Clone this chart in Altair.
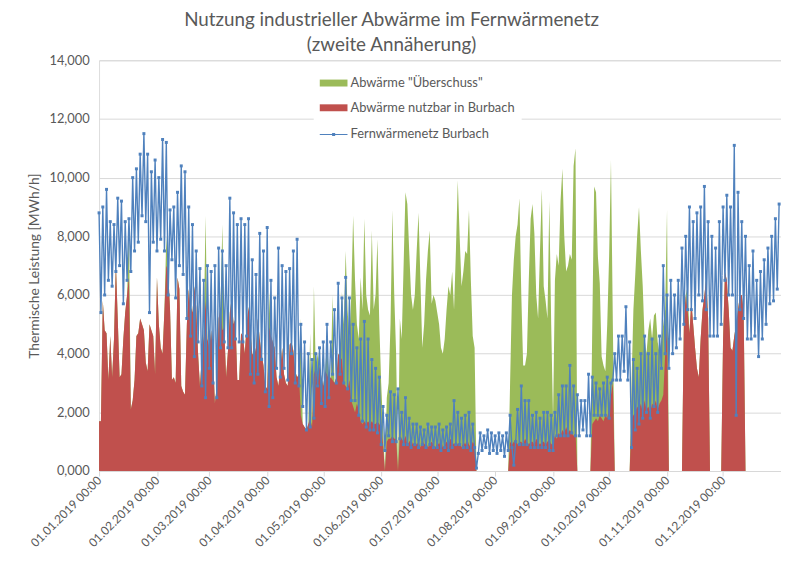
import altair as alt
import pandas as pd

# --- Werte in MWh/h / 1000, Tageswerte 01.01.2019 - 31.12.2019 ---
# Abwärme gesamt ("Überschuss"-Fläche, liegt hinter der roten Fläche)
abwaerme_gesamt = [
    1.7, 1.7, 5.8, 4.8, 4.7, 3.1, 4.6, 3.2, 4.5, 7.1,
    5.2, 3.2, 3.3, 4.5, 5.4, 6.0, 8.4, 2.1, 2.4, 3.1,
    4.6, 4.7, 5.2, 5.0, 4.8, 3.7, 3.4, 5.0, 4.8, 4.6,
    3.3, 6.6, 5.0, 4.2, 4.0, 5.5, 8.0, 6.8, 5.5, 3.1,
    3.2, 3.0, 6.6, 6.2, 2.9, 2.7, 2.6, 5.0, 6.2, 5.6,
    5.4, 6.3, 5.6, 4.0, 2.9, 3.9, 4.6, 8.7, 4.5, 4.2,
    4.8, 4.0, 2.3, 2.9, 5.2, 5.6, 8.4, 4.9, 3.2, 4.1,
    5.4, 5.9, 5.0, 5.2, 3.1, 3.1, 4.7, 4.6, 4.0, 5.0,
    5.6, 4.8, 4.0, 3.9, 4.2, 5.2, 4.5, 4.0, 3.6, 2.9,
    2.8, 6.1, 4.6, 4.4, 4.2, 3.2, 2.9, 3.5, 4.2, 3.3,
    3.0, 2.9, 4.3, 4.4, 4.1, 3.4, 3.2, 3.3, 5.2, 1.6,
    1.5, 1.4, 1.6, 4.7, 1.5, 6.3, 3.5, 4.0, 3.6, 3.2,
    2.9, 3.4, 4.4, 3.1, 3.2, 6.0, 3.0, 3.2, 4.0, 3.9,
    6.1, 5.0, 7.5, 5.5, 4.5, 6.0, 8.7, 6.5, 5.0, 4.5,
    6.6, 5.5, 8.6, 6.0, 5.5, 5.3, 8.2, 5.5, 6.0, 7.9,
    5.0, 3.0, 1.5, 0.0, 2.5, 3.0, 5.0, 8.9, 6.0, 4.0,
    0.0, 5.2, 4.5, 7.0, 9.5, 9.1, 7.5, 6.0, 5.5, 6.0,
    7.5, 8.8, 6.5, 4.2, 5.0, 6.5, 7.5, 8.2, 5.7, 6.0,
    5.8, 5.4, 5.0, 4.2, 4.0, 4.5, 5.5, 6.3, 6.0, 6.8,
    5.5, 7.5, 9.9, 8.0, 6.3, 6.8, 7.5, 7.4, 8.9, 6.5,
    4.6, 4.2, 0.0, 0.0, 0.0, 0.0, 0.0, 0.0, 0.0, 0.0,
    0.0, 0.0, 0.0, 0.0, 0.0, 0.0, 0.0, 0.0, 0.0, 0.0,
    3.0, 6.0, 7.2, 8.0, 8.4, 9.3, 6.0, 3.6, 3.6, 4.0,
    6.5, 8.6, 9.1, 8.1, 6.0, 5.2, 7.5, 9.6, 6.3, 5.8,
    5.2, 9.2, 5.0, 1.8, 6.5, 7.4, 7.0, 9.2, 10.3, 8.0,
    6.8, 7.0, 7.4, 7.2, 10.4, 11.0, 0.0, 0.0, 0.0, 0.0,
    0.0, 0.0, 0.0, 0.0, 5.0, 9.7, 9.5, 7.3, 6.4, 3.9,
    3.6, 3.4, 5.0, 7.3, 10.6, 5.0, 0.0, 0.0, 0.0, 0.0,
    0.0, 0.0, 0.0, 0.0, 0.0, 3.0, 5.5, 6.7, 8.0, 9.0,
    7.5, 6.3, 4.5, 4.0, 4.8, 5.2, 4.5, 5.3, 5.4, 4.4,
    4.0, 4.5, 5.0, 5.5, 8.9, 0.0, 0.0, 0.0, 0.0, 0.0,
    0.0, 0.0, 0.0, 5.0, 6.0, 6.3, 4.7, 5.8, 5.0, 4.2,
    3.5, 3.2, 4.5, 5.5, 6.0, 6.6, 5.2, 0.0, 0.0, 0.0,
    0.0, 0.0, 0.0, 0.0, 4.5, 6.8, 6.5, 5.5, 4.2, 4.1,
    4.6, 5.0, 5.5, 6.0, 6.0, 5.5, 0.0, 0.0, 0.0, 0.0,
    0.0, 0.0, 0.0, 0.0, 0.0, 0.0, 0.0, 0.0, 0.0, 0.0,
    0.0, 0.0, 0.0, 0.0, 0.0,
]

# Abwärme nutzbar in Burbach (rote Fläche)
abwaerme_nutzbar = [
    1.7, 1.7, 5.8, 4.8, 4.7, 3.1, 4.6, 3.2, 4.5, 7.1,
    5.2, 3.2, 3.3, 4.5, 5.4, 6.0, 6.6, 2.1, 2.4, 3.1,
    4.6, 4.7, 5.2, 5.0, 4.8, 3.7, 3.4, 5.0, 4.8, 4.6,
    3.3, 6.6, 5.0, 4.2, 4.0, 5.5, 7.0, 6.8, 5.5, 3.1,
    3.2, 3.0, 6.6, 6.2, 2.9, 2.7, 2.6, 5.0, 6.2, 5.6,
    5.4, 6.3, 5.6, 4.0, 2.9, 3.9, 4.6, 5.8, 4.5, 4.2,
    4.8, 4.0, 2.3, 2.9, 5.2, 5.6, 4.8, 4.9, 3.2, 4.1,
    5.4, 5.9, 5.0, 5.2, 3.1, 3.1, 4.7, 4.6, 4.0, 5.0,
    5.6, 4.8, 4.0, 3.9, 4.2, 5.2, 4.5, 4.0, 3.6, 2.9,
    2.8, 4.9, 4.6, 4.4, 4.2, 3.2, 2.9, 3.5, 4.2, 3.3,
    3.0, 2.9, 4.3, 4.4, 4.1, 3.4, 3.2, 3.3, 1.9, 1.6,
    1.5, 1.4, 1.6, 1.8, 1.5, 3.3, 3.5, 3.0, 3.6, 3.2,
    2.9, 3.4, 3.3, 3.1, 3.2, 3.1, 3.0, 3.2, 4.0, 3.9,
    3.8, 3.0, 2.9, 2.8, 3.1, 2.4, 2.2, 2.0, 2.3, 2.1,
    1.7, 1.6, 1.7, 1.6, 1.7, 1.6, 1.7, 1.6, 1.6, 1.7,
    1.6, 1.5, 0.9, 0.0, 1.0, 1.1, 1.1, 1.2, 1.1, 1.1,
    0.0, 1.2, 1.1, 1.0, 1.2, 0.9, 1.0, 1.1, 0.9, 1.0,
    0.9, 1.0, 0.8, 1.1, 0.9, 1.0, 0.8, 0.9, 1.0, 0.9,
    0.8, 1.0, 0.9, 1.1, 0.8, 0.9, 1.0, 0.9, 1.1, 1.0,
    0.9, 1.0, 0.9, 1.0, 0.8, 1.0, 0.9, 1.1, 0.9, 0.8,
    1.0, 0.9, 0.0, 0.0, 0.0, 0.0, 0.0, 0.0, 0.0, 0.0,
    0.0, 0.0, 0.0, 0.0, 0.0, 0.0, 0.0, 0.0, 0.0, 0.0,
    1.0, 0.9, 1.0, 1.1, 0.9, 1.0, 1.0, 0.9, 1.1, 1.0,
    0.9, 1.0, 1.0, 0.9, 1.1, 1.0, 0.9, 1.0, 1.0, 0.9,
    1.0, 1.1, 0.9, 1.0, 1.2, 1.1, 1.3, 1.2, 1.4, 1.3,
    1.5, 1.3, 1.4, 1.3, 1.2, 1.3, 0.0, 0.0, 0.0, 0.0,
    0.0, 0.0, 0.0, 0.0, 1.6, 1.7, 1.8, 1.7, 1.9, 1.8,
    1.7, 1.9, 1.8, 2.2, 2.6, 3.0, 0.0, 0.0, 0.0, 0.0,
    0.0, 0.0, 0.0, 0.0, 0.0, 1.8, 1.9, 2.0, 2.2, 2.1,
    2.3, 2.0, 2.4, 2.1, 2.2, 2.0, 2.3, 2.2, 2.4, 2.1,
    2.3, 2.4, 2.6, 4.0, 4.9, 0.0, 0.0, 0.0, 0.0, 0.0,
    0.0, 0.0, 0.0, 5.0, 6.0, 5.5, 4.7, 5.8, 5.0, 4.2,
    3.5, 3.2, 4.5, 5.5, 6.0, 6.6, 5.2, 0.0, 0.0, 0.0,
    0.0, 0.0, 0.0, 0.0, 4.5, 6.8, 6.5, 5.5, 4.2, 4.1,
    4.6, 5.0, 5.5, 6.0, 6.0, 5.5, 0.0, 0.0, 0.0, 0.0,
    0.0, 0.0, 0.0, 0.0, 0.0, 0.0, 0.0, 0.0, 0.0, 0.0,
    0.0, 0.0, 0.0, 0.0, 0.0,
]

# Fernwärmenetz Burbach (Lastgang, abwechselnd Tages-Hoch / Tages-Tief)
fernwaermenetz = [
    8.8, 5.4, 9.0, 6.0, 9.6, 6.5, 8.5, 6.3, 8.4, 6.8,
    9.3, 7.0, 9.2, 5.7, 8.5, 6.5, 8.6, 6.8, 10.0, 7.5,
    10.3, 7.8, 10.8, 8.7, 11.5, 8.5, 10.8, 5.4, 10.2, 7.8,
    10.6, 7.5, 10.0, 7.9, 11.3, 7.5, 11.2, 6.0, 8.9, 7.2,
    9.0, 5.9, 9.5, 7.0, 10.4, 6.7, 10.2, 5.2, 9.0, 4.6,
    8.4, 3.9, 7.5, 4.4, 6.9, 2.9, 6.5, 2.5, 7.0, 3.5,
    6.8, 3.0, 7.0, 2.5, 7.6, 4.2, 7.5, 4.4, 7.0, 4.2,
    9.3, 4.2, 8.8, 4.5, 8.4, 4.4, 8.6, 4.4, 8.4, 4.6,
    8.6, 3.3, 7.2, 3.0, 6.7, 3.3, 8.1, 3.8, 7.5, 2.7,
    8.3, 2.2, 6.5, 2.5, 5.9, 3.5, 7.6, 3.2, 7.0, 3.5,
    6.8, 3.1, 6.9, 4.0, 7.5, 3.0, 7.9, 2.9, 5.0, 2.2,
    4.4, 1.4, 4.0, 1.5, 3.8, 1.8, 4.0, 2.9, 4.2, 2.3,
    4.4, 2.2, 5.0, 2.5, 4.4, 3.3, 5.5, 3.0, 6.4, 3.3,
    5.9, 3.0, 6.6, 2.8, 5.9, 2.4, 5.0, 2.4, 4.2, 1.9,
    4.5, 1.7, 5.1, 1.5, 4.5, 1.4, 3.8, 1.4, 3.5, 1.3,
    3.2, 0.9, 2.2, 0.7, 1.9, 1.2, 2.7, 1.0, 2.6, 1.0,
    2.8, 1.1, 2.0, 0.9, 2.5, 0.9, 1.8, 0.8, 1.6, 0.9,
    1.6, 0.8, 1.5, 0.9, 1.4, 0.8, 1.6, 0.9, 1.5, 0.8,
    1.5, 0.8, 1.6, 0.7, 1.4, 0.8, 1.5, 0.7, 1.6, 0.8,
    2.4, 0.9, 2.0, 0.9, 1.8, 0.8, 1.9, 0.8, 2.0, 0.7,
    1.6, 0.8, 0.1, 0.6, 1.3, 0.7, 1.2, 0.8, 1.4, 0.6,
    1.3, 0.7, 1.2, 0.6, 1.3, 0.7, 1.2, 0.5, 1.3, 0.7,
    1.9, 0.8, 0.2, 1.0, 2.1, 0.9, 2.9, 0.9, 2.4, 0.9,
    2.4, 0.8, 1.9, 0.8, 2.0, 0.8, 1.8, 0.8, 2.0, 0.8,
    2.0, 0.7, 1.9, 0.7, 2.0, 1.2, 2.6, 1.2, 2.9, 1.2,
    2.9, 1.2, 3.6, 1.3, 2.9, 1.2, 2.6, 1.2, 2.4, 1.4,
    2.4, 1.2, 3.3, 1.2, 3.2, 1.9, 3.0, 1.9, 2.8, 1.9,
    3.0, 1.9, 3.2, 1.8, 3.0, 3.1, 4.0, 3.1, 4.6, 3.1,
    4.6, 3.4, 5.6, 3.1, 4.4, 0.8, 3.8, 1.4, 3.5, 1.6,
    4.0, 1.8, 4.6, 2.0, 4.0, 1.8, 4.5, 2.2, 4.0, 2.0,
    4.6, 3.5, 7.0, 4.0, 6.0, 3.5, 6.5, 4.0, 6.0, 4.2,
    6.5, 4.5, 7.6, 5.0, 8.0, 5.5, 9.0, 5.5, 8.5, 5.2,
    8.8, 6.0, 9.0, 5.8, 9.7, 5.5, 8.5, 4.6, 8.0, 4.6,
    7.6, 4.6, 8.5, 5.0, 9.0, 6.5, 9.4, 6.0, 9.0, 6.0,
    11.1, 1.9, 9.5, 5.5, 8.5, 5.2, 8.0, 4.5, 7.0, 4.5,
    7.5, 4.6, 6.5, 3.9, 6.8, 4.5, 7.2, 5.0, 7.6, 5.7,
    8.0, 5.8, 8.6, 6.2, 9.1,
]

n = min(len(abwaerme_gesamt), len(abwaerme_nutzbar), len(fernwaermenetz))
dates = pd.date_range("2019-01-01", periods=n, freq="D")

S_G = 'Abwärme "Überschuss"'
S_R = "Abwärme nutzbar in Burbach"
S_B = "Fernwärmenetz Burbach"
FONT = "Lato"
GREY = "#595959"
BLUE = "#4f81bd"

df = pd.DataFrame({
    "date": dates,
    "gesamt": [v * 1000 for v in abwaerme_gesamt[:n]],
    "nutzbar": [v * 1000 for v in abwaerme_nutzbar[:n]],
    "netz": [v * 1000 for v in fernwaermenetz[:n]],
    "s_g": S_G,
    "s_r": S_R,
    "s_b": S_B,
})

rect_shape = "M-1,-0.25L1,-0.25L1,0.25L-1,0.25Z"
line_shape = ("M-1,-0.04L1,-0.04L1,0.04L-1,0.04Z "
              "M-0.11,-0.11L0.11,-0.11L0.11,0.11L-0.11,0.11Z")

area_legend = alt.Legend(
    title=None, orient="none", legendX=217, legendY=3, padding=6,
    fillColor="white", labelFont=FONT, labelFontSize=13, labelColor=GREY,
    symbolType=rect_shape, symbolSize=784, symbolStrokeWidth=0,
    labelOffset=3, rowPadding=4, labelLimit=300,
)
line_legend = alt.Legend(
    title=None, orient="none", legendX=217, legendY=55, padding=6,
    fillColor="white", labelFont=FONT, labelFontSize=13, labelColor=GREY,
    symbolType=line_shape, symbolSize=784, symbolStrokeWidth=0,
    symbolFillColor=BLUE, symbolStrokeColor=BLUE,
    labelOffset=3, labelLimit=300,
)
color_scale = alt.Scale(domain=[S_G, S_R], range=["#9bbb59", "#c0504d"])

x_enc = alt.X(
    "date:T",
    scale=alt.Scale(domain=[alt.DateTime(year=2019, month=1, date=1),
                            alt.DateTime(year=2020, month=1, date=1)]),
    axis=alt.Axis(
        title=None,
        values=[alt.DateTime(year=2019, month=m, date=1) for m in range(1, 13)],
        format="%d.%m.%Y %H:%M", labelAngle=-45, labelAlign="right",
        labelBaseline="middle", labelFont=FONT, labelFontSize=12, labelColor=GREY,
        labelPadding=2, labelOverlap=False, labelBound=False, labelFlush=False,
        grid=False, domainColor="#d9d9d9", tickColor="#d9d9d9", tickSize=5,
    ),
)

def y_enc(field):
    return alt.Y(
        f"{field}:Q",
        scale=alt.Scale(domain=[0, 14000], nice=False),
        axis=alt.Axis(
            title="Thermische Leistung [MWh/h]", titleFont=FONT, titleFontSize=14,
            titleFontWeight="normal", titleColor=GREY, titlePadding=8,
            values=list(range(0, 14001, 2000)),
            labelExpr="datum.value == 0 ? '0,000' : format(datum.value, ',')",
            labelFont=FONT, labelFontSize=13, labelColor=GREY, labelPadding=10,
            domain=False, ticks=False, gridColor="#d9d9d9", gridWidth=1,
        ),
    )

base = alt.Chart(df)
green = base.mark_area(opacity=1, interpolate="linear").encode(
    x=x_enc, y=y_enc("gesamt"),
    color=alt.Color("s_g:N", scale=color_scale, legend=area_legend))
red = base.mark_area(opacity=1, interpolate="linear").encode(
    x=x_enc, y=y_enc("nutzbar"),
    color=alt.Color("s_r:N", scale=color_scale, legend=area_legend))
blue = base.mark_line(
    strokeWidth=1.4, color=BLUE,
    point=alt.OverlayMarkDef(filled=True, size=9, shape="square", color=BLUE),
).encode(
    x=x_enc, y=y_enc("netz"),
    strokeDash=alt.StrokeDash("s_b:N",
                              scale=alt.Scale(domain=[S_B], range=[[1, 0]]),
                              legend=line_legend),
)

chart = alt.layer(green, red, blue).properties(
    width=689, height=415,
    padding={"left": 92, "top": 50, "right": 0, "bottom": 80},
    autosize=alt.AutoSizeParams(type="none"),
    title=alt.TitleParams(
        ["Nutzung industrieller Abwärme im Fernwärmenetz", "(zweite Annäherung)"],
        font=FONT, fontSize=19, fontWeight="normal", color=GREY,
        anchor="middle", dx=-49, offset=-1, lineHeight=26,
    ),
).configure_view(stroke=None).configure(background="white")

chart.save("out.html", embed_options={"renderer": "svg", "actions": False})
